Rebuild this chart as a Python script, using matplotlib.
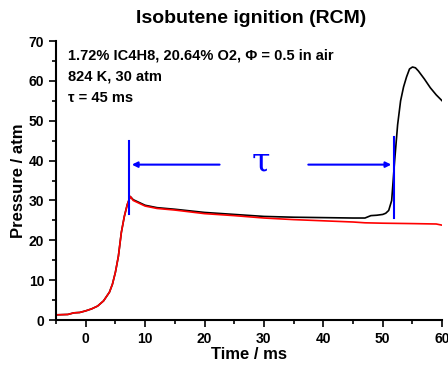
import matplotlib.pyplot as plt

plt.rcParams['font.family'] = ['Liberation Sans', 'DejaVu Sans']
plt.rcParams['font.weight'] = 'bold'

# experiment (black)
t_exp = [-5, -3, -2, -1, 0, 1, 2, 3, 4, 4.5, 5, 5.5, 6, 6.5, 7, 7.5, 8, 9, 10, 12, 15,
         20, 25, 30, 35, 40, 45, 47, 48, 49, 50, 50.5, 51, 51.5, 52, 52.5, 53, 53.5, 54,
         54.5, 55, 55.5, 56, 57, 58, 59, 60]
p_exp = [1.3, 1.4, 1.8, 1.9, 2.3, 2.8, 3.5, 4.8, 7, 9, 12, 16, 22, 26, 29, 31, 30.2, 29.5,
         28.8, 28.2, 27.8, 27, 26.5, 26, 25.8, 25.7, 25.6, 25.6, 26.2, 26.3, 26.5, 26.8, 27.5,
         30, 40, 49, 55, 58.5, 61, 63, 63.5, 63.3, 62.5, 60.5, 58.3, 56.5, 55]

# non-reactive (red)
t_nr = [-5, -3, -2, -1, 0, 1, 2, 3, 4, 4.5, 5, 5.5, 6, 6.5, 7, 7.5, 8, 9, 10, 12, 15,
        20, 25, 30, 35, 40, 45, 47, 50, 55, 59, 60]
p_nr = [1.3, 1.4, 1.8, 1.9, 2.3, 2.8, 3.5, 4.8, 7, 9, 12, 16, 22, 26, 29, 31, 30.0, 29.3,
        28.6, 28.0, 27.6, 26.7, 26.2, 25.6, 25.2, 24.9, 24.6, 24.4, 24.3, 24.2, 24.1, 23.8]

t_start, t_ign = 7.3, 51.9
tau = 45

fig = plt.figure(figsize=(4.48, 3.67), dpi=100)
ax = fig.add_axes([0.125, 0.128, 0.862, 0.76])

ax.plot(t_exp, p_exp, color='black', lw=1.2)
ax.plot(t_nr, p_nr, color='red', lw=1.2)

# tau markers
ax.plot([t_start, t_start], [26.7, 45], color='blue', lw=1.5)
ax.plot([t_ign, t_ign], [25.5, 46], color='blue', lw=1.5)
ax.annotate('', xy=(t_start, 39), xytext=(23, 39),
            arrowprops=dict(arrowstyle='-|>', color='blue', lw=1.5, mutation_scale=8))
ax.annotate('', xy=(t_ign, 39), xytext=(37, 39),
            arrowprops=dict(arrowstyle='-|>', color='blue', lw=1.5, mutation_scale=8))
ax.text(29.5, 39.5, '\u03c4', color='blue', fontsize=24, fontweight='normal',
        family='DejaVu Serif', ha='center', va='center')

ax.text(-3, 66.5, '1.72% IC4H8, 20.64% O2, \u03a6 = 0.5 in air', fontsize=10.5,
        fontweight='bold', va='center')
ax.text(-3, 61.2, '824 K, 30 atm', fontsize=10.5, fontweight='bold', va='center')
ax.text(-3, 55.8, '\u03c4 = %d ms' % tau, fontsize=10.5, fontweight='bold', va='center')

ax.set_xlim(-5, 60)
ax.set_ylim(0, 70)
ax.set_xticks(range(0, 61, 10))
ax.set_xticks(range(-5, 61, 5), minor=True)
ax.set_yticks(range(0, 71, 10))
ax.set_yticks(range(0, 71, 5), minor=True)
ax.spines['top'].set_visible(False)
ax.spines['right'].set_visible(False)
ax.spines['left'].set_linewidth(1.5)
ax.spines['bottom'].set_linewidth(1.5)
ax.tick_params(which='both', width=1.2, labelsize=10)
ax.tick_params(which='major', length=5)
ax.tick_params(which='minor', length=3)
for lbl in ax.get_xticklabels() + ax.get_yticklabels():
    lbl.set_fontweight('bold')
ax.set_xlabel('Time / ms', fontsize=12, fontweight='bold', labelpad=1)
ax.set_ylabel('Pressure / atm', fontsize=12, fontweight='bold', labelpad=2)
fig.text(0.56, 0.95, 'Isobutene ignition (RCM)', fontsize=14, fontweight='bold',
         ha='center', va='center')

fig.savefig('out.png', dpi=100)
